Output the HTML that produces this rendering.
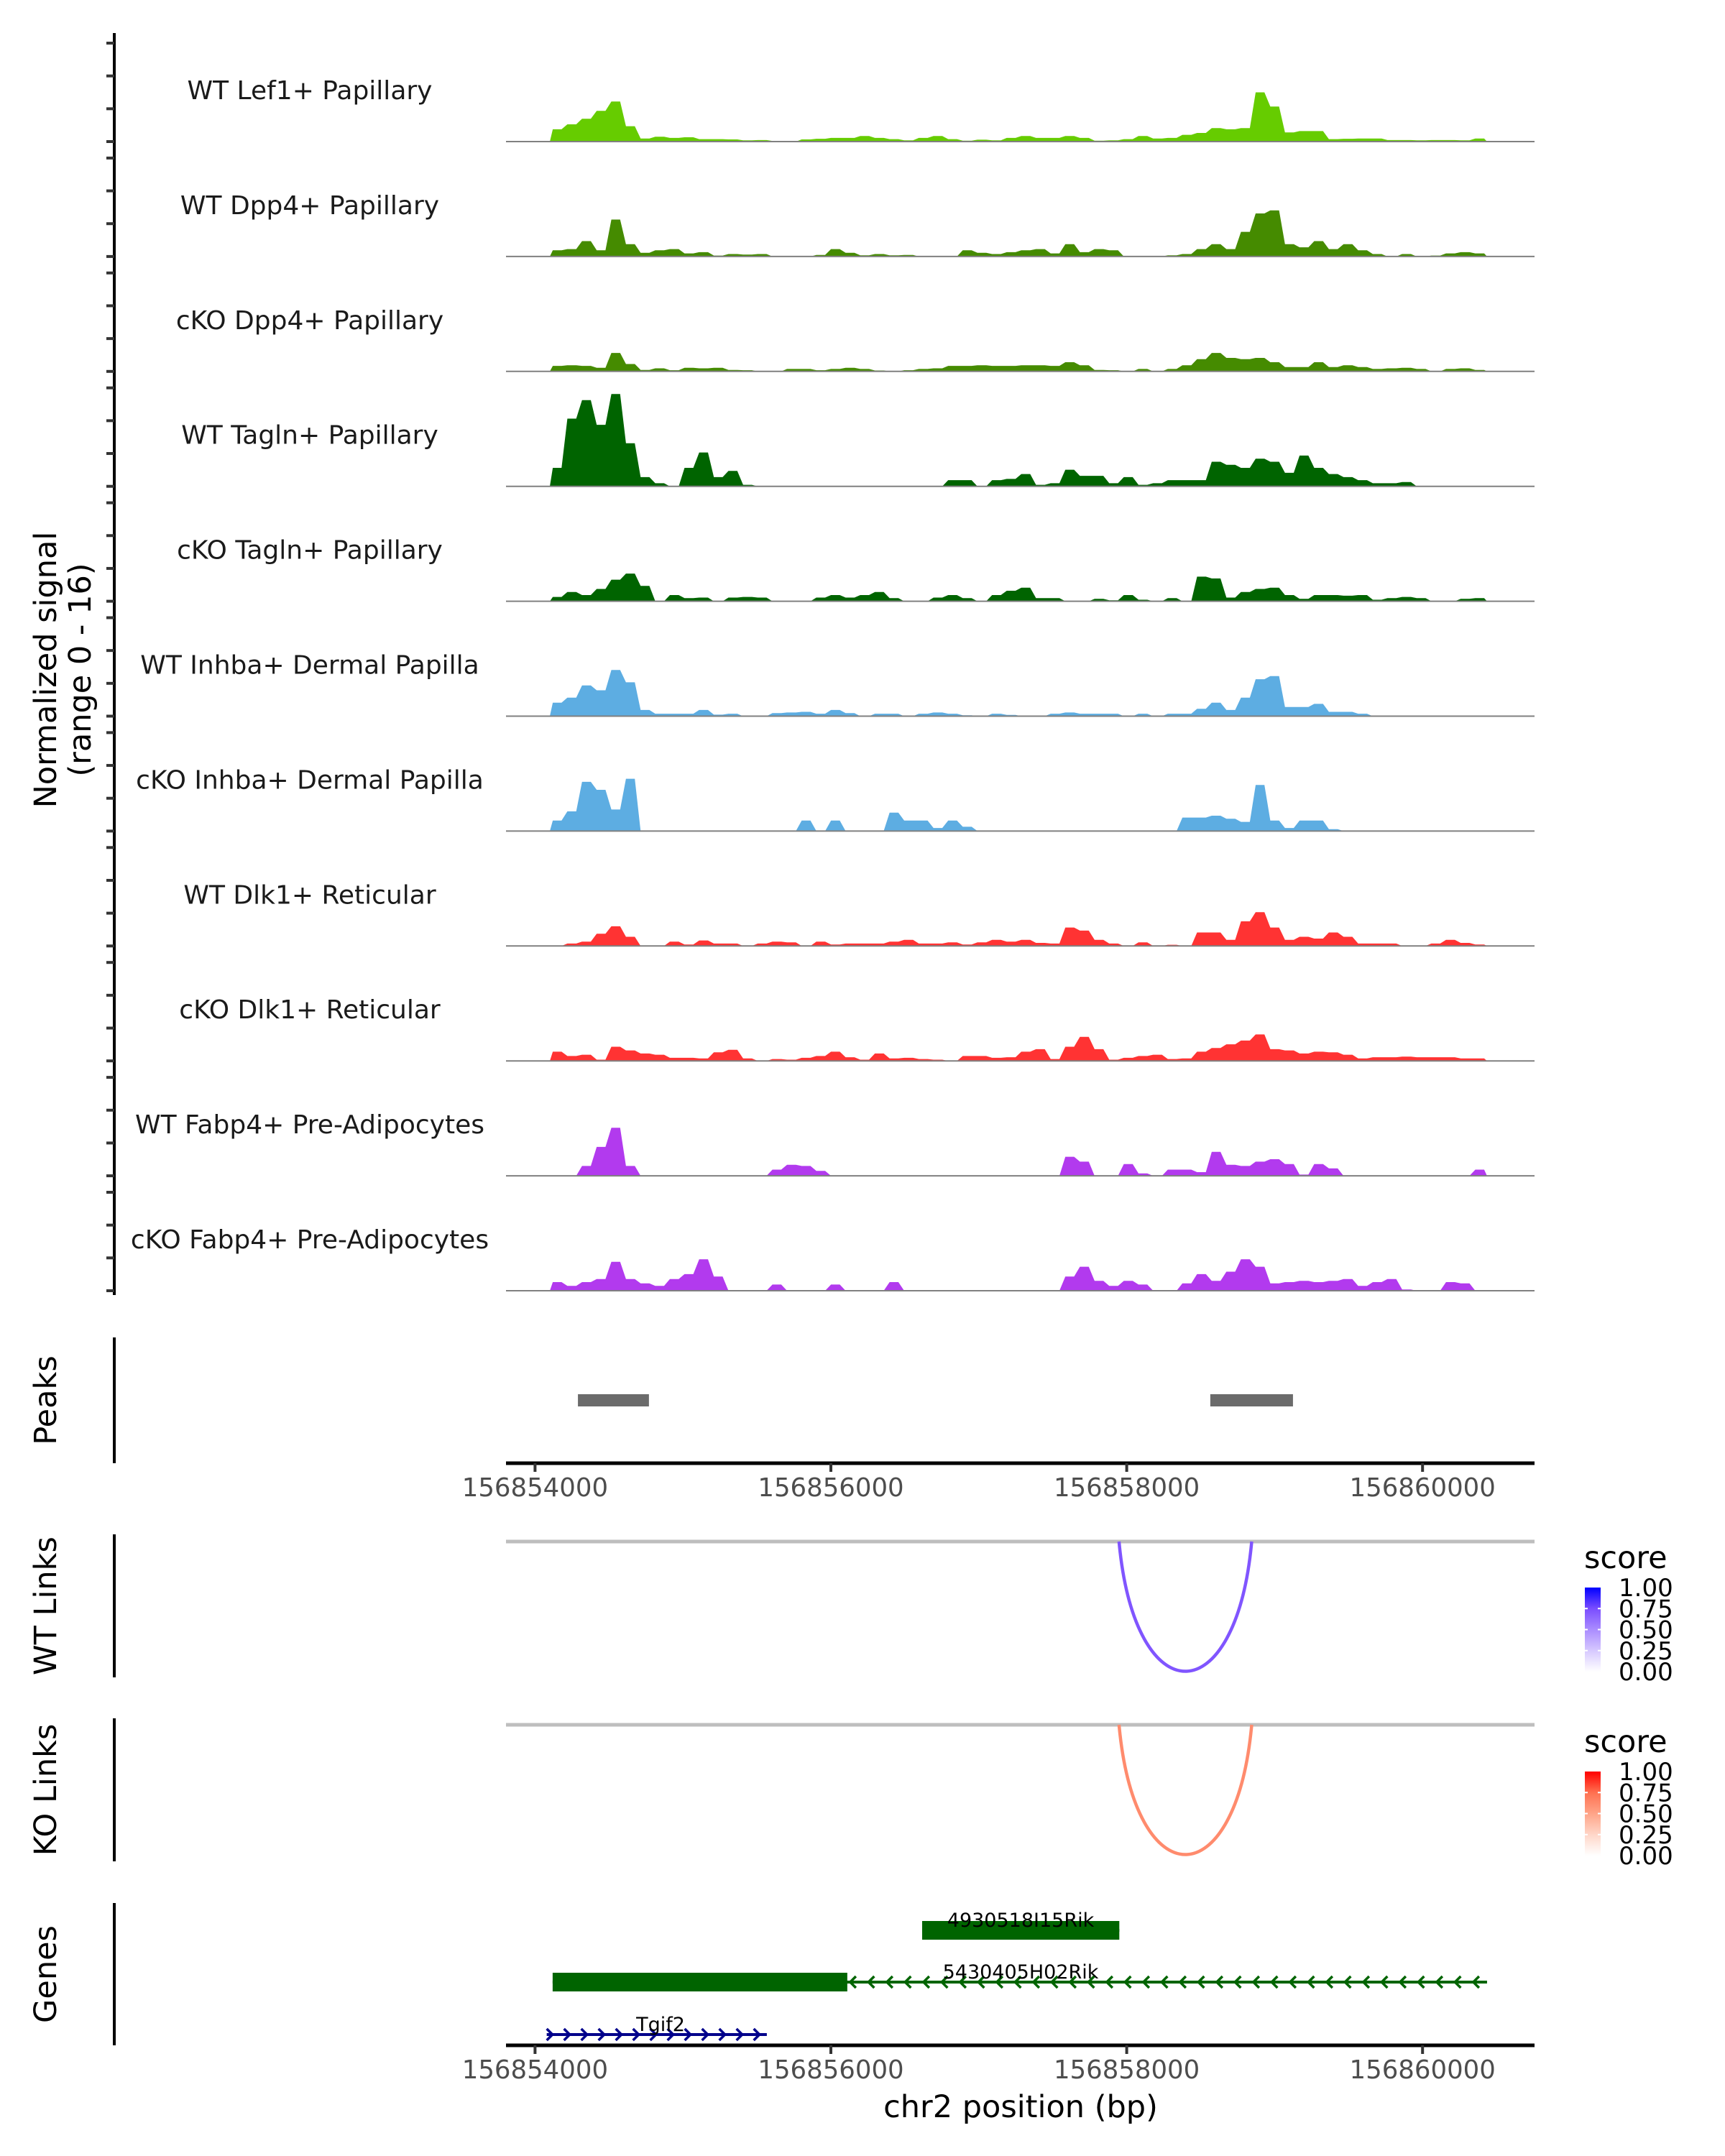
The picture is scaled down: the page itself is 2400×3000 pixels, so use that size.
<!DOCTYPE html>
<html><head><meta charset="utf-8"><style>
html,body{margin:0;padding:0;background:#fff;}
svg{display:block;font-family:"DejaVu Sans","Liberation Sans",sans-serif;}
</style></head><body>
<svg id="chart" xmlns="http://www.w3.org/2000/svg" width="2400" height="3000" viewBox="0 0 2400 3000">
<rect x="0" y="0" width="2400" height="3000" fill="#fff"/>
<g id="g"></g>
</svg>
<script>
// ---- data ----
var binStart = 156854100;
var binSize = 99;
var trackNames = ["WT Lef1+ Papillary","WT Dpp4+ Papillary","cKO Dpp4+ Papillary","WT Tagln+ Papillary","cKO Tagln+ Papillary","WT Inhba+ Dermal Papilla","cKO Inhba+ Dermal Papilla","WT Dlk1+ Reticular","cKO Dlk1+ Reticular","WT Fabp4+ Pre-Adipocytes","cKO Fabp4+ Pre-Adipocytes"];
var trackColors = ["#66cc00","#458b00","#458b00","#006400","#006400","#5dade2","#5dade2","#ff3333","#ff3333","#b23aee","#b23aee"];
var sigLef1WT = [2.0,2.8,3.7,5.0,6.5,2.5,0.5,0.8,0.6,0.7,0.4,0.4,0.35,0.2,0.25,0.1,0,0.35,0.45,0.6,0.6,0.9,0.6,0.4,0.2,0.6,0.9,0.4,0.15,0.3,0.2,0.6,0.9,0.6,0.6,0.9,0.6,0.15,0.2,0.4,0.9,0.5,0.6,1.1,1.4,2.2,2.0,2.2,8.0,5.7,1.5,1.7,1.7,0.4,0.45,0.5,0.5,0.25,0.25,0.2,0.25,0.25,0.2,0.5];
var sigDpp4WT = [1.0,1.2,2.5,1.0,6.0,2.0,0.6,1.0,1.2,0.5,0.7,0.15,0.4,0.3,0.4,0,0,0,0.25,1.2,0.6,0.2,0.4,0.2,0.25,0,0,0,1.0,0.6,0.4,0.7,1.0,1.2,0.5,2.0,0.7,1.2,1.0,0,0,0,0.2,0.4,1.2,2.0,1.2,4.0,7.0,7.5,2.0,1.5,2.5,1.2,2.0,1.0,0.4,0,0.4,0,0.15,0.5,0.7,0.5];
var sigDpp4KO = [0.9,1.0,0.9,0.6,3.0,1.2,0.25,0.5,0.2,0.6,0.5,0.6,0.25,0.2,0,0,0.4,0.4,0.2,0.4,0.6,0.4,0.15,0,0.2,0.4,0.5,0.9,0.9,1.0,0.9,0.9,1.0,1.0,0.9,1.5,1.0,0.25,0.2,0,0.4,0,0.4,1.0,2.0,3.0,2.2,2.0,2.2,1.5,0.7,0.7,1.5,0.7,1.0,0.7,0.4,0.5,0.6,0.4,0,0.4,0.5,0.25];
var sigTaglnWT = [3.0,11,14,10,15,7.0,1.5,0.5,0,3.0,5.5,1.5,2.5,0.25,0,0,0,0,0,0,0,0,0,0,0,0,0,1.0,1.0,0,1.0,1.2,2.0,0.25,0.5,2.7,1.7,1.7,0.5,1.5,0.25,0.5,1.0,1.0,1.0,4.0,3.5,3.0,4.5,4.0,2.2,5.0,3.0,2.0,1.5,1.0,0.5,0.5,0.7,0,0,0,0,0];
var sigTaglnKO = [0.7,1.5,1.0,2.0,3.5,4.5,2.5,0,1.0,0.5,0.6,0,0.6,0.7,0.6,0,0,0,0.6,1.0,0.6,1.0,1.5,0.5,0,0,0.6,1.0,0.5,0,1.0,1.7,2.2,0.5,0.5,0,0,0.4,0.15,1.0,0.25,0,0.5,0,4.0,3.7,0.6,1.5,2.0,2.2,1.0,0.4,1.0,1.0,0.9,1.0,0.25,0.5,0.7,0.5,0,0,0.4,0.5];
var sigInhbaWT = [2.2,3.0,5.0,4.2,7.5,5.5,1.0,0.4,0.4,0.4,1.0,0.25,0.4,0,0,0.5,0.6,0.7,0.4,1.0,0.5,0,0.4,0.4,0,0.4,0.6,0.4,0.15,0,0.4,0.2,0,0,0.4,0.6,0.4,0.4,0.4,0,0.4,0,0.4,0.4,1.2,2.2,1.0,3.0,6.0,6.5,1.5,1.5,2.0,0.7,0.7,0.4,0,0,0,0,0,0,0,0];
var sigInhbaKO = [1.7,3.2,8.0,6.7,3.5,8.5,0,0,0,0,0,0,0,0,0,0,0,1.7,0,1.7,0,0,0,3.0,1.7,1.7,0.5,1.7,0.7,0,0,0,0,0,0,0,0,0,0,0,0,0,0,2.2,2.2,2.5,2.0,1.5,7.5,1.7,0.5,1.7,1.7,0.3,0,0,0,0,0,0,0,0,0,0];
var sigDlk1WT = [0,0.4,0.7,2.0,3.2,1.5,0,0,0.7,0.25,0.9,0.4,0.4,0,0.4,0.7,0.6,0,0.7,0.25,0.4,0.4,0.4,0.7,1.0,0.4,0.4,0.6,0.25,0.6,1.0,0.7,1.0,0.5,0.4,3.0,2.5,1.0,0.4,0,0.6,0,0.2,0,2.2,2.2,1.0,4.0,5.5,3.0,1.0,1.5,1.2,2.2,1.5,0.4,0.4,0.4,0,0,0.4,1.0,0.5,0.25];
var sigDlk1KO = [1.5,0.8,1.0,0.2,2.3,1.7,1.2,1.0,0.5,0.5,0.4,1.4,1.8,0.4,0,0.3,0.2,0.5,0.8,1.5,0.6,0.2,1.2,0.4,0.5,0.3,0.2,0,0.8,0.8,0.5,0.6,1.5,1.9,0.3,2.3,3.9,1.9,0.2,0.5,0.8,1.0,0.3,0.4,1.5,2.1,2.7,3.3,4.3,1.9,1.7,1.2,1.5,1.4,1.0,0.4,0.6,0.6,0.7,0.6,0.6,0.6,0.4,0.4];
var sigFabp4WT = [0,0,1.6,4.7,7.8,1.6,0,0,0,0,0,0,0,0,0,1.0,1.8,1.6,0.8,0,0,0,0,0,0,0,0,0,0,0,0,0,0,0,0,3.1,2.3,0,0,1.9,0.4,0,1.0,1.0,0.6,3.9,1.8,1.6,2.3,2.7,1.9,0.2,1.9,1.2,0,0,0,0,0,0,0,0,0,1.0];
var sigFabp4KO = [1.4,0.8,1.4,1.9,4.7,1.9,1.2,0.8,1.9,2.7,5.1,2.3,0,0,0,1.0,0,0,0,1.0,0,0,0,1.4,0,0,0,0,0,0,0,0,0,0,0,2.3,3.9,1.6,0.8,1.6,1.0,0,0,1.2,2.7,1.6,3.1,5.1,3.9,1.2,1.4,1.6,1.4,1.6,1.9,0.8,1.4,1.9,0.2,0,0,1.4,1.2,0];
var signals = [sigLef1WT,sigDpp4WT,sigDpp4KO,sigTaglnWT,sigTaglnKO,sigInhbaWT,sigInhbaKO,sigDlk1WT,sigDlk1KO,sigFabp4WT,sigFabp4KO];
var yMax = 16;
var peakStarts = [156854290,156858565];
var peakEnds = [156854770,156859124];
var xTicks = [156854000,156856000,156858000,156860000];
var linkStartWT = [156857948]; var linkEndWT = [156858845]; var linkScoreWT = [0.72];
var linkStartKO = [156857948]; var linkEndKO = [156858845]; var linkScoreKO = [0.62];
var legendTicks = [1.00,0.75,0.50,0.25,0.00];
var geneNames = ["4930518I15Rik","5430405H02Rik","Tgif2"];
var geneStarts = [156856617,156854119,156854079];
var geneEnds = [156857950,156860436,156855567];
var exonStarts = [156856617,156854119,null];
var exonEnds = [156857950,156856111,null];
var geneStrand = ["+","-","+"];
var geneRow = [0,1,2];

// ---- scales ----
var NS="http://www.w3.org/2000/svg";
var G=document.getElementById('g');
function X(bp){return 744.4+(bp-156854000)*0.2058;}
var base0=197, trackGap=159.9, trackH=137;
function baseY(i){return base0+trackGap*i;}
function Y(i,v){return baseY(i)-v/yMax*trackH;}
function mk(tag,attrs,parent){var e=document.createElementNS(NS,tag);for(var k in attrs)e.setAttribute(k,attrs[k]);(parent||G).appendChild(e);return e;}
var PL=704, PR=2135;
var blueStops=[[255,255,255],[214,200,255],[170,140,255],[122,77,255],[0,0,255]];
var redStops=[[255,255,255],[255,214,200],[255,164,136],[255,112,80],[255,0,0]];
function scoreColor(stops,s){
  var f=Math.max(0,Math.min(1,s))*4, k=Math.min(3,Math.floor(f)), t=f-k;
  var a=stops[k], b=stops[k+1];
  return 'rgb('+Math.round(a[0]+(b[0]-a[0])*t)+','+Math.round(a[1]+(b[1]-a[1])*t)+','+Math.round(a[2]+(b[2]-a[2])*t)+')';
}

// left axis of tracks
var ax=mk('line',{x1:159,y1:46,x2:159,y2:1802,stroke:'#000','stroke-width':4});


for(var i=0;i<11;i++){
  for(var t=0;t<4;t++){
    var ty=Y(i,t*yMax/3);
    var tk=mk('line',{x1:148,y1:ty,x2:159,y2:ty,stroke:'#333','stroke-width':4});
    
    
  }
}
var yt=mk('text',{transform:'translate(78,932) rotate(-90)','text-anchor':'middle','font-size':43,fill:'#000'});


var t1=mk('tspan',{x:0,y:0},yt);t1.textContent='Normalized signal';
var t2=mk('tspan',{x:0,y:48},yt);t2.textContent='(range 0 - 16)';

// tracks
for(var i=0;i<11;i++){
  var s=signals[i], by=baseY(i);
  var d='M'+X(binStart).toFixed(1)+','+by;
  for(var j=0;j<s.length;j++){
    var xa=X(binStart+binSize*(j+0.2)), xb=X(binStart+binSize*(j+0.8)), yy=Y(i,s[j]).toFixed(1);
    d+=' L'+xa.toFixed(1)+','+yy+' L'+xb.toFixed(1)+','+yy;
  }
  d+=' L'+X(binStart+binSize*s.length).toFixed(1)+','+by+' Z';
  var p=mk('path',{d:d,fill:trackColors[i],stroke:'none'});
  
  
  var bl=mk('line',{x1:PL,y1:by,x2:PR,y2:by,stroke:'#808080','stroke-width':2});
  
  
  var lb=mk('text',{x:431,y:by-59,'text-anchor':'middle','font-size':36,fill:'#1a1a1a'});
  lb.textContent=trackNames[i];
  
  
}

// panel side axes & titles
var panels=[['Peaks',1861,2036,'peaks'],['WT Links',2135,2334,'wt-links'],['KO Links',2391,2590,'ko-links'],['Genes',2648,2846,'genes']];
for(var k=0;k<panels.length;k++){
  var pa=panels[k];
  var l=mk('line',{x1:159,y1:pa[1],x2:159,y2:pa[2],stroke:'#000','stroke-width':4});
  
  
  var cy=(pa[1]+pa[2])/2;
  var tt=mk('text',{transform:'translate(78,'+cy+') rotate(-90)','text-anchor':'middle','font-size':43,fill:'#000'});
  tt.textContent=pa[0];
  
  
}

// peaks
for(var k=0;k<peakStarts.length;k++){
  var r=mk('rect',{x:X(peakStarts[k]),y:1940,width:X(peakEnds[k])-X(peakStarts[k]),height:17,fill:'#6b6b6b'});
  
  
}

// x axes
function xAxis(y,name){
  var a=mk('line',{x1:PL,y1:y,x2:PR,y2:y,stroke:'#000','stroke-width':5});
  
  
  for(var k=0;k<xTicks.length;k++){
    var tx=X(xTicks[k]);
    var tk=mk('line',{x1:tx,y1:y,x2:tx,y2:y+12,stroke:'#333','stroke-width':4});
    
    
    var tl=mk('text',{x:tx,y:y+46,'text-anchor':'middle','font-size':35.5,fill:'#4d4d4d'});
    tl.textContent=String(xTicks[k]);
    
    
  }
}
xAxis(2036,'peaks-x-axis');
xAxis(2846,'genes-x-axis');
var xt=mk('text',{x:1420,y:2946,'text-anchor':'middle','font-size':43,fill:'#000'});
xt.textContent='chr2 position (bp)';



// links
function linkPanel(top,depth,starts,ends,scores,stops,name){
  var g=mk('line',{x1:PL,y1:top,x2:PR,y2:top,stroke:'#bebebe','stroke-width':5});
  
  
  for(var k=0;k<starts.length;k++){
    var x1=X(starts[k]),x2=X(ends[k]);
    var d='M'+x1+','+top+' C'+(x1+(x2-x1)*0.12)+','+(top+depth*1.33)+' '+(x2-(x2-x1)*0.12)+','+(top+depth*1.33)+' '+x2+','+top;
    var p=mk('path',{d:d,fill:'none',stroke:scoreColor(stops,scores[k]),'stroke-width':4.5});
    
    
  }
}
linkPanel(2145,181,linkStartWT,linkEndWT,linkScoreWT,blueStops,'wt-link');
linkPanel(2400,181,linkStartKO,linkEndKO,linkScoreKO,redStops,'ko-link');

// legends
function legend(top,stops,name){
  var defs=mk('defs',{});
  var lg=mk('linearGradient',{id:'grad-'+name,x1:0,y1:0,x2:0,y2:1},defs);
  for(var q=0;q<=4;q++){mk('stop',{offset:q/4,'stop-color':scoreColor(stops,1-q/4)},lg);}
  var st=mk('text',{x:2204,y:top+37,'font-size':43,fill:'#000'});
  st.textContent='score';
  
  
  var y0=top+64, h=117;
  var bar=mk('rect',{x:2205,y:y0,width:22,height:h,fill:'url(#grad-'+name+')'});
  
  
  for(var k=0;k<legendTicks.length;k++){
    var ly=y0+(1-legendTicks[k])*h;
    if(legendTicks[k]>0&&legendTicks[k]<1){
      mk('line',{x1:2205,y1:ly,x2:2209,y2:ly,stroke:'#fff','stroke-width':2});
      mk('line',{x1:2223,y1:ly,x2:2227,y2:ly,stroke:'#fff','stroke-width':2});
    }
    var tl=mk('text',{x:2252,y:ly+12,'font-size':34,fill:'#000'});
    tl.textContent=legendTicks[k].toFixed(2);
    
    
  }
}
legend(2145,blueStops,'wt');
legend(2401,redStops,'ko');

// genes
var rowY=[2686,2758,2831];
for(var k=0;k<geneNames.length;k++){
  var gy=rowY[geneRow[k]];
  var col=(k==2)?'#00008b':'#006400';
  var x1=X(geneStarts[k]),x2=X(geneEnds[k]);
  var ln=mk('line',{x1:x1,y1:gy,x2:x2,y2:gy,stroke:col,'stroke-width':4});
  
  
  var ex1=x1, ex2=x1;
  if(exonStarts[k]!==null){
    ex1=X(exonStarts[k]); ex2=X(exonEnds[k]);
    var er=mk('rect',{x:ex1,y:gy-13,width:ex2-ex1,height:26,fill:col});
    
    
  }
  var a0=(exonStarts[k]!==null)?ex2+8:x1+4;
  var step=(k==2)?24:25.5;
  for(var ax2=a0; ax2<x2-4; ax2+=step){
    var d=geneStrand[k]=='+'?('M'+(ax2-4)+','+(gy-8)+' L'+(ax2+4)+','+gy+' L'+(ax2-4)+','+(gy+8)):('M'+(ax2+4)+','+(gy-8)+' L'+(ax2-4)+','+gy+' L'+(ax2+4)+','+(gy+8));
    var ar=mk('path',{d:d,fill:'none',stroke:col,'stroke-width':3.5});
    
    
  }
  var lx=(k==2)?919:1420;
  var gl=mk('text',{x:lx,y:gy-5,'text-anchor':'middle','font-size':27,fill:'#000'});
  gl.textContent=geneNames[k];
  
  
}
</script>
</body></html>
